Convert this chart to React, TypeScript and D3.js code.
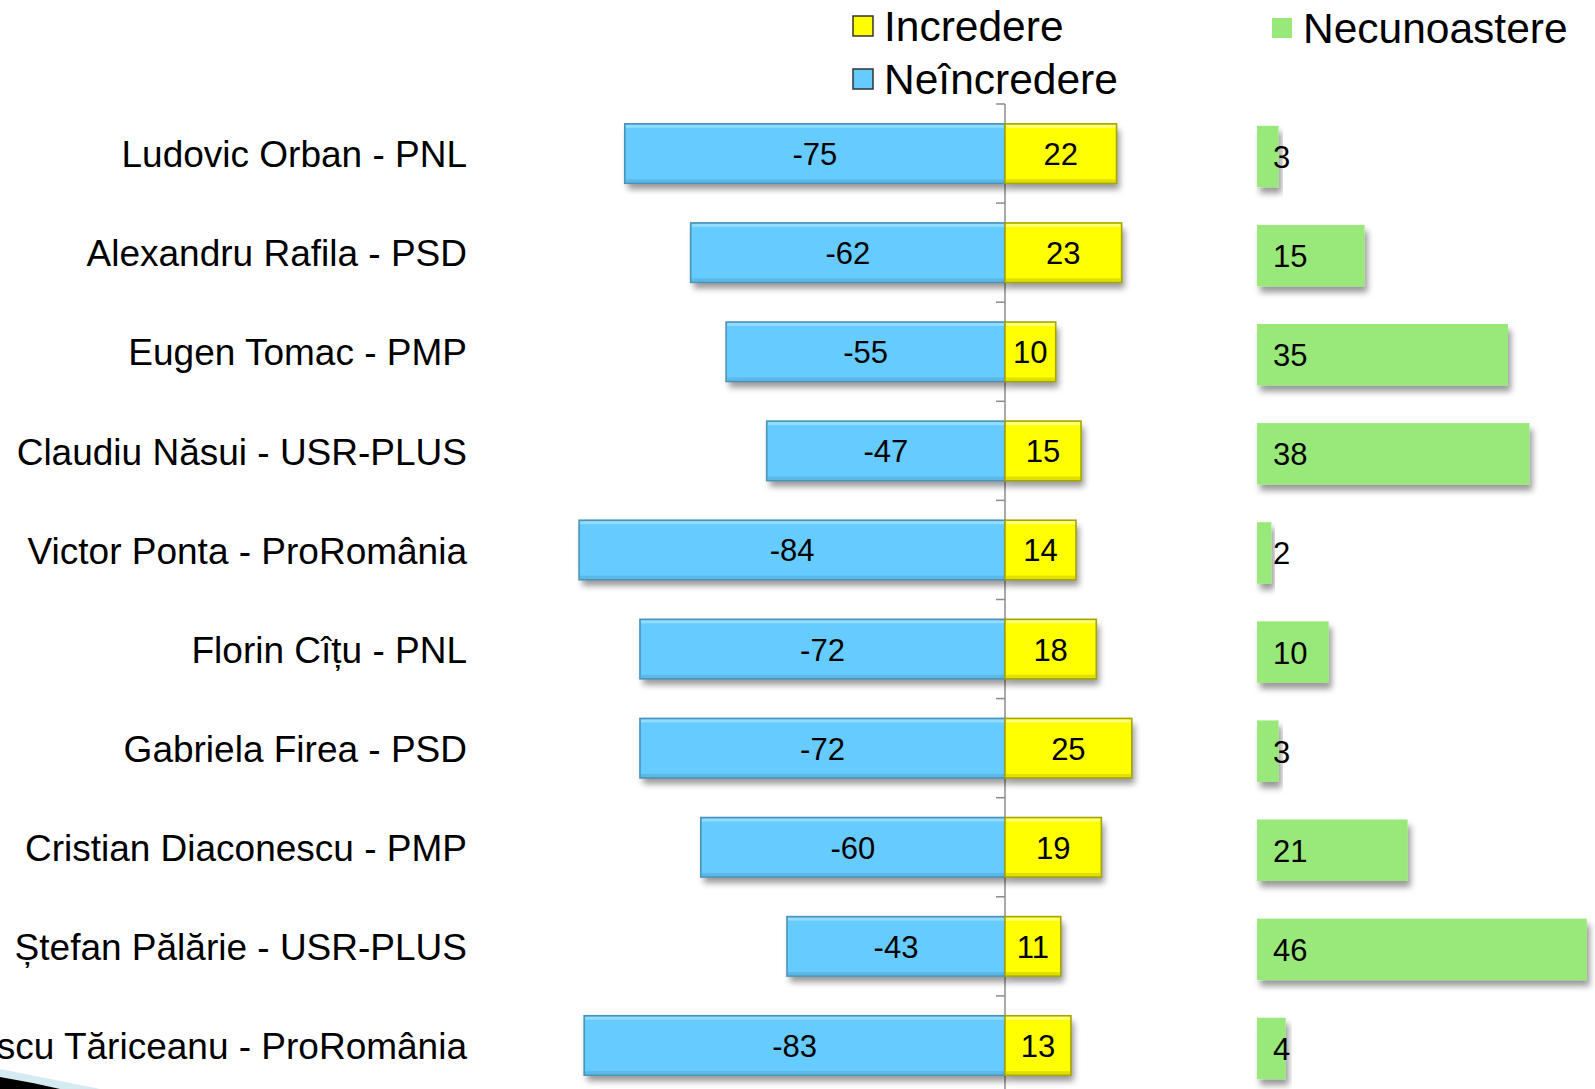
import React from "react";
import * as d3 from "d3";

const categories = [
  "Ludovic Orban - PNL",
  "Alexandru Rafila - PSD",
  "Eugen Tomac - PMP",
  "Claudiu Năsui - USR-PLUS",
  "Victor Ponta - ProRomânia",
  "Florin Cîțu - PNL",
  "Gabriela Firea - PSD",
  "Cristian Diaconescu - PMP",
  "Ștefan Pălărie - USR-PLUS",
  "Călin Popescu Tăriceanu - ProRomânia",
];
const neincredere = [-75, -62, -55, -47, -84, -72, -72, -60, -43, -83];
const incredere = [22, 23, 10, 15, 14, 18, 25, 19, 11, 13];
const necunoastere = [3, 15, 35, 38, 2, 10, 3, 21, 46, 4];
const legendLabels = ["Incredere", "Neîncredere", "Necunoastere"];

const W = 1595;
const H = 1089;
const FONT = "'Liberation Sans', Arial, sans-serif";
const BLUE = "#66CCFF";
const YELLOW = "#FFFF00";
const GREEN = "#98E87A";

export default function App() {
  const x = d3.scaleLinear().domain([-90, 30]).range([1005 - 90 * 5.07, 1005 + 30 * 5.07]);
  const xg = d3.scaleLinear().domain([0, 50]).range([1257, 1257 + 50 * 7.17]);
  const top = 104;
  const y = d3
    .scaleBand<string>()
    .domain(categories)
    .range([top, top + 99.1 * categories.length])
    .paddingInner(0.4)
    .paddingOuter(0.2);
  const bw = y.bandwidth();
  const step = y.step();
  const x0 = x(0);
  const tickYs = d3.range(categories.length + 1).map((i) => top + i * step);

  const bevelRect = (
    key: string,
    x1: number,
    x2: number,
    yy: number,
    fill: string,
    edge: string,
    light: string
  ) => {
    const left = Math.min(x1, x2);
    const w = Math.abs(x2 - x1);
    return (
      <g key={key}>
        <rect x={left} y={yy} width={w} height={bw} fill={fill} filter="url(#shadow)" />
        <rect x={left + 1} y={yy + 1} width={Math.max(0, w - 2)} height={3} fill={light} opacity={0.8} />
        <rect x={left + 1} y={yy + bw - 4} width={Math.max(0, w - 2)} height={3} fill={edge} opacity={0.35} />
        <rect x={left} y={yy} width={w} height={bw} fill="none" stroke={edge} strokeWidth={1.6} />
      </g>
    );
  };

  return (
    <svg
      width={W}
      height={H}
      viewBox={`0 0 ${W} ${H}`}
      style={{ position: "absolute", left: 0, top: 0, background: "#fff" }}
    >
      <defs>
        <filter id="shadow" x="-10%" y="-20%" width="130%" height="160%">
          <feDropShadow dx="3" dy="6" stdDeviation="3" floodColor="#000" floodOpacity="0.4" />
        </filter>
      </defs>
      <rect x={0} y={0} width={W} height={H} fill="#fff" />

      {/* bottom-left decoration */}
      <path d={`M0,1069 L100,${H} L0,${H} Z`} fill="#D6EAF2" />
      <path d={`M0,1077 Q30,1082 60,${H} L0,${H} Z`} fill="#000" />

      {/* category labels */}
      {categories.map((c) => (
        <text
          key={c}
          x={467}
          y={(y(c) as number) + bw / 2}
          dy="0.37em"
          textAnchor="end"
          fontFamily={FONT}
          fontSize={37}
          fill="#000"
        >
          {c}
        </text>
      ))}

      {/* axis */}
      <line x1={x0} x2={x0} y1={tickYs[0]} y2={H} stroke="#8c8c8c" strokeWidth={1.5} />
      {tickYs.map((t, i) => (
        <line key={i} x1={x0 - 9} x2={x0} y1={t} y2={t} stroke="#8c8c8c" strokeWidth={1.5} />
      ))}

      {/* diverging bars */}
      {categories.map((c, i) => {
        const yy = y(c) as number;
        return (
          <g key={c}>
            {bevelRect("n" + i, x(neincredere[i]), x0, yy, BLUE, "#4A93B8", "#9EE0FF")}
            {bevelRect("i" + i, x0, x(incredere[i]), yy, YELLOW, "#A6A600", "#FFFF99")}
          </g>
        );
      })}
      {categories.map((c, i) => {
        const yy = (y(c) as number) + bw / 2;
        return (
          <g key={"l" + c} fontFamily={FONT} fontSize={31} fill="#000">
            <text x={(x(neincredere[i]) + x0) / 2} y={yy} dy="0.37em" textAnchor="middle">
              {neincredere[i]}
            </text>
            <text x={(x(incredere[i]) + x0) / 2} y={yy} dy="0.37em" textAnchor="middle">
              {incredere[i]}
            </text>
          </g>
        );
      })}

      {/* green bars */}
      {categories.map((c, i) => {
        const yy = (y(c) as number) + 2;
        return (
          <g key={"g" + c}>
            <rect
              x={xg(0)}
              y={yy}
              width={xg(necunoastere[i]) - xg(0)}
              height={bw + 2}
              fill={GREEN}
              filter="url(#shadow)"
            />
            <text
              x={xg(0) + 16}
              y={yy + (bw + 2) / 2}
              dy="0.37em"
              fontFamily={FONT}
              fontSize={31}
              fill="#000"
            >
              {necunoastere[i]}
            </text>
          </g>
        );
      })}

      {/* legend */}
      <g fontFamily={FONT} fontSize={42.5} fill="#000">
        <rect x={853} y={16} width={20} height={20} fill={YELLOW} stroke="#333" strokeWidth={1.5} />
        <text x={884} y={41}>{legendLabels[0]}</text>
        <rect x={853} y={69} width={20} height={20} fill={BLUE} stroke="#333" strokeWidth={1.5} />
        <text x={884} y={94}>{legendLabels[1]}</text>
        <rect x={1272} y={18} width={20} height={20} fill={GREEN} />
        <text x={1303} y={43}>{legendLabels[2]}</text>
      </g>
    </svg>
  );
}
